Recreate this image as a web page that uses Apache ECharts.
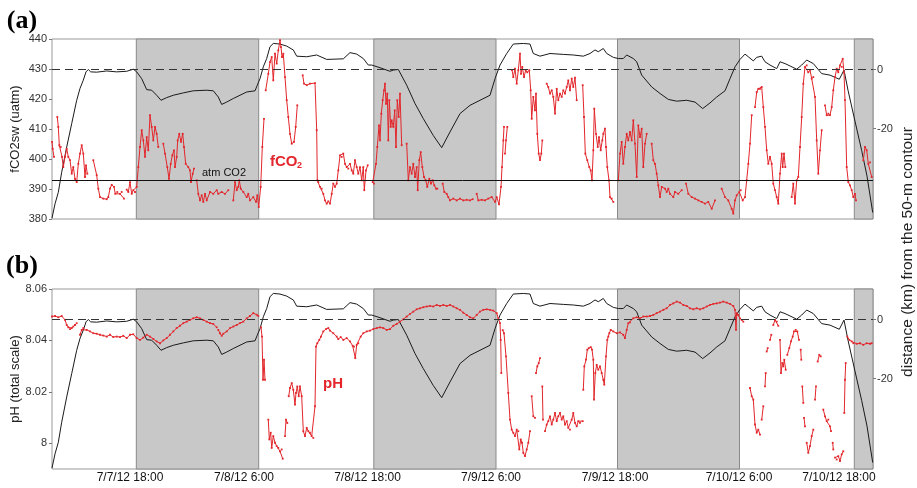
<!DOCTYPE html>
<html><head><meta charset="utf-8">
<script src="https://cdn.jsdelivr.net/npm/echarts@6/dist/echarts.min.js"></script>
<style>html,body{margin:0;padding:0;background:#fff}#c{width:917px;height:488px}</style>
</head><body><div id="c"></div>
<script>
// x values: hours elapsed since start of record (~7/7/12 10:00)
const tickHours = [7.8, 19.2, 31.55, 43.9, 56.3, 68.7, 78.7];
const tickLabels = ['7/7/12 18:00', '7/8/12 6:00', '7/8/12 18:00', '7/9/12 6:00', '7/9/12 18:00', '7/10/12 6:00', '7/10/12 18:00'];
const nightPeriods = [[8.43, 20.67], [32.18, 44.4], [56.55, 68.75], [80.23, 82.1]];
const atmCO2 = 392.8;
const fco2Ticks = [380, 390, 400, 410, 420, 430, 440];
const phTicks = [8, 8.02, 8.04, 8.06];
const distTicks = [0, -20];

// distance (km) from the 50-m contour
const distance = [
[0,-50.2],[0.3,-45.4],[0.63,-41.5],[0.97,-34.7],[1.47,-26.2],[1.97,-18.3],[2.47,-10.4],[2.8,-6.4],[3.13,-3.6],[3.4,-0.8],[3.63,0],[3.87,-0.8],[4.47,-0.9],[5.47,-0.5],[6.47,-0.8],[7.47,-0.6],[8.13,0.1],[8.47,-0.8],[8.97,-3.1],[9.47,-6.8],[9.97,-7.0],[10.47,-8.7],[10.9,-10.4],[11.47,-9.5],[12.13,-8.7],[13.13,-7.9],[14.13,-7.2],[15.47,-7.0],[16.13,-7.2],[16.63,-9.3],[16.97,-11.8],[17.47,-11.0],[18.13,-9.8],[18.8,-8.7],[19.47,-7.6],[20.3,-7.2],[20.53,-5.3],[20.8,-3.1],[21.13,0.9],[21.47,3.7],[21.8,7.7],[22.13,8.8],[22.8,8.6],[23.47,7.9],[24.13,6.6],[24.47,4.5],[25.47,4.3],[26.47,4.9],[27.47,3.4],[29.13,3.6],[29.8,5.7],[30.47,5.2],[31.13,3.7],[31.63,1.5],[31.97,1.5],[32.8,0.6],[33.8,-0.6],[34.13,-0.2],[34.63,0],[35.47,-5.3],[36.3,-11.5],[37.13,-16.6],[38.13,-22.3],[38.97,-26.4],[39.8,-21.1],[40.8,-14.9],[41.8,-12.1],[42.8,-10.4],[43.8,-8.7],[44.3,-3.1],[44.8,1.5],[45.47,5.4],[46.13,8.6],[47.13,8.8],[47.8,8.6],[48.13,5.4],[48.8,4.5],[49.8,5.4],[51.13,5.1],[52.13,4.9],[53.13,4.5],[53.8,5.4],[54.3,6.6],[54.63,6.0],[55.13,7.1],[55.47,5.4],[56.13,4.1],[56.63,3.7],[57.13,3.7],[57.47,4.9],[58.13,3.7],[58.47,2.6],[58.97,-1.9],[59.97,-5.9],[60.8,-8.1],[61.63,-10.1],[62.47,-10.7],[63.47,-10.4],[64.3,-11.0],[65.07,-13.2],[65.8,-11.3],[66.47,-9.3],[67.3,-7.2],[67.8,-3.1],[68.3,0.9],[68.8,3.4],[69.3,5.2],[69.63,4.3],[70.13,2.9],[70.47,4.1],[70.97,4.5],[71.3,2.6],[71.8,1.5],[72.47,0.3],[72.8,2.6],[73.3,2.0],[73.8,1.2],[74.47,0.1],[74.97,1.5],[75.47,3.2],[76.13,2.0],[76.97,-1.4],[77.8,-1.9],[78.73,-3.3],[79.2,-0.2],[79.6,-7.0],[80.2,-16.0],[80.97,-27.4],[81.5,-36.0],[82.07,-48.3]
];

// fCO2sw (uatm); null = gap in record
const fco2 = [
[0,405.7],[0.07,403.4],[0.2,400.7],null,
[0.53,414.0],[0.63,410.7],[0.73,404.6],[0.87,404.0],[1.0,400.7],[1.13,397.3],[1.3,400.7],[1.47,403.4],[1.63,400.7],[1.8,399.6],[1.97,395.1],[2.13,397.3],[2.3,393.4],[2.47,392.3],[2.63,398.4],[2.8,401.8],[2.97,404.6],[3.13,401.8],[3.3,394.0],[3.4,397.9],[3.53,395.1],null,
[4.13,399.6],[4.47,394.6],[4.63,390.1],[4.8,387.3],[5.13,386.8],[5.47,386.6],[5.63,387.3],[5.8,390.1],[5.97,391.4],[6.2,390.7],[6.33,388.4],[6.53,389.0],[6.8,388.4],[6.97,389.0],[7.2,386.8],null,
[7.47,389.8],[7.63,389.0],[7.8,392.3],[7.97,388.4],[8.13,389.6],[8.3,389.0],[8.47,390.7],[8.63,397.3],[8.8,404.0],[8.97,409.6],[9.13,406.2],[9.3,400.7],[9.47,407.3],[9.63,402.9],[9.8,414.6],[9.97,410.7],[10.13,406.2],[10.3,410.7],[10.47,408.4],[10.63,404.0],null,
[11.13,405.1],[11.3,401.8],[11.53,397.3],[11.7,393.4],[11.87,398.4],[12.03,401.2],[12.2,402.9],[12.3,397.3],[12.47,400.7],[12.57,406.2],[12.73,408.4],[12.9,405.7],[13.07,408.4],[13.2,404.0],[13.37,398.4],[13.63,397.3],[13.8,396.2],[13.9,392.3],[14.07,395.1],[14.2,396.8],null,
[14.47,392.9],[14.63,388.4],[14.8,386.2],[14.97,387.9],[15.13,385.7],[15.3,388.4],[15.47,386.2],[15.8,389.0],[16.13,388.4],[16.47,389.6],[16.63,388.4],[16.97,389.0],[17.3,388.4],[17.63,389.6],null,
[18.13,386.2],[18.3,392.3],[18.47,389.6],[18.63,390.7],[18.73,392.9],[18.87,390.1],[19.13,389.0],[19.47,387.3],[19.63,388.4],[19.8,386.2],[20.13,387.3],[20.4,385.7],[20.53,387.9],[20.67,384.0],[20.87,390.7],[21.03,404.0],[21.2,413.4],null,
[21.37,422.9],[21.63,428.4],[21.8,432.3],[21.97,434.0],[22.13,426.2],[22.3,435.1],[22.47,431.8],[22.63,436.2],[22.8,439.6],[22.9,437.3],[23.0,434.0],[23.13,435.1],[23.3,427.3],[23.47,419.6],[23.63,414.0],[23.8,408.4],[23.97,405.1],[24.2,405.7],[24.37,410.7],[24.53,417.9],null,
[25.07,427.9],[25.2,425.1],[25.47,424.6],[25.8,425.1],[26.3,425.3],[26.47,409.6],[26.53,392.9],[26.63,392.3],[26.8,390.7],[26.97,390.1],[27.13,388.4],[27.3,386.2],[27.47,385.1],[27.63,385.9],[27.8,385.1],[27.97,388.4],[28.13,391.8],[28.3,390.7],[28.47,391.8],[28.63,396.2],[28.8,401.2],[28.97,400.7],[29.13,401.8],[29.3,398.4],[29.47,397.3],[29.63,396.8],[29.8,398.4],[29.97,396.2],[30.13,395.1],[30.3,399.6],[30.47,397.3],[30.63,395.1],[30.8,397.3],[30.97,392.9],[31.13,397.3],[31.23,389.6],[31.4,396.2],[31.57,397.9],null,
[32.07,392.3],[32.2,391.8],[32.4,398.4],[32.53,404.0],[32.7,411.2],[32.8,406.2],[32.93,415.1],[33.07,419.6],[33.2,422.9],[33.3,425.1],[33.4,418.4],[33.53,421.8],[33.63,406.2],[33.73,419.6],[33.87,410.7],[33.97,412.9],[34.13,410.7],[34.27,416.2],[34.4,404.0],[34.53,419.6],[34.67,414.0],[34.8,421.8],[34.97,404.6],null,
[35.47,405.1],[35.63,392.9],[35.8,397.3],[35.97,395.1],[36.13,398.4],[36.3,394.0],[36.47,397.3],[36.57,389.6],[36.73,399.6],[36.87,402.3],[37.03,397.3],[37.2,394.0],[37.37,392.9],[37.53,390.7],[37.73,393.4],[37.9,391.8],[38.07,392.9],[38.23,391.2],[38.4,390.1],[38.53,390.1],null,
[39.07,391.8],[39.23,389.0],[39.47,388.4],[39.63,387.3],[39.8,386.2],[40.13,386.8],[40.47,386.2],[40.8,386.8],[41.13,386.2],[41.47,386.4],[41.8,386.2],[42.07,386.6],null,
[42.47,388.4],[42.63,386.2],[42.97,386.4],[43.3,386.2],[43.63,386.8],[43.97,387.3],[44.3,385.7],[44.47,387.3],[44.7,384.9],[44.9,390.7],[45.0,397.3],[45.13,406.2],[45.2,410.7],null,
[45.3,401.8],[45.4,406.2],[45.53,410.7],null,
[46.0,429.6],[46.13,427.3],[46.3,430.1],[46.47,425.1],[46.63,429.6],[46.8,435.1],[46.9,428.4],[47.03,430.7],[47.2,427.3],[47.37,429.6],[47.53,428.9],[47.73,429.6],[47.87,422.9],[47.97,413.4],[48.13,420.7],[48.3,416.2],[48.4,421.8],[48.53,408.4],[48.67,401.8],[48.8,399.6],[48.93,401.8],[49.03,406.2],null,
[49.47,425.1],[49.63,424.0],[49.8,421.8],[49.97,422.9],[50.13,420.7],[50.3,415.1],[50.47,423.4],[50.63,419.6],[50.8,421.8],[50.97,420.7],[51.13,422.9],[51.3,421.8],[51.47,424.0],[51.63,426.2],[51.8,422.9],[51.97,426.8],[52.13,424.0],[52.3,427.1],[52.47,419.6],null,
[53.07,424.6],[53.2,414.0],[53.33,401.8],[53.53,399.6],[53.73,397.3],[53.87,396.2],[54.0,392.9],[54.13,402.9],[54.23,416.8],[54.4,408.4],[54.57,404.0],[54.7,407.3],[54.87,402.9],[55.03,406.2],[55.13,408.4],[55.3,410.1],[55.4,404.0],[55.53,397.3],[55.7,392.9],[55.8,387.3],[55.97,386.8],[56.13,385.7],null,
[56.63,392.9],[56.8,401.8],[56.97,405.7],[57.13,398.4],[57.3,404.0],[57.47,408.4],[57.63,406.2],[57.8,409.0],[57.97,406.2],[58.13,412.9],[58.3,405.1],[58.47,394.0],[58.63,411.2],[58.8,407.3],[58.97,410.1],[59.13,397.3],[59.3,405.1],[59.47,408.4],null,
[59.97,405.1],[60.13,399.6],[60.3,398.4],[60.47,395.1],[60.63,391.2],[60.8,387.3],[60.97,390.7],[61.3,390.1],[61.47,389.0],[61.63,390.1],[61.8,388.4],[62.13,387.3],[62.3,389.0],[62.63,388.4],[62.97,389.6],null,
[63.4,391.8],[63.63,388.4],[63.97,387.3],[64.3,386.8],[64.63,386.2],[64.97,385.7],[65.3,385.1],[65.63,385.7],[65.97,383.4],[66.3,386.2],null,
[66.97,390.1],[67.3,387.3],[67.63,386.2],[67.97,383.4],[68.13,381.8],[68.3,386.2],[68.47,387.9],[68.73,389.0],[68.87,389.6],[69.07,386.2],[69.3,387.3],[69.47,392.9],[69.63,398.4],[69.8,405.1],[69.97,414.6],null,
[70.3,417.3],[70.47,422.3],[70.63,423.4],[70.8,423.4],[70.97,424.0],[71.13,417.3],[71.3,410.7],[71.47,402.9],[71.63,398.4],[71.8,400.7],[71.97,398.4],[72.13,391.8],[72.3,389.6],[72.47,387.3],[72.63,385.1],[72.8,395.1],[72.97,401.8],[73.07,397.3],[73.2,401.8],[73.33,397.3],null,
[73.97,387.3],[74.13,391.8],[74.3,385.1],[74.47,392.9],[74.63,394.0],[74.8,404.0],[74.97,414.0],[75.13,425.1],[75.3,430.7],[75.47,431.2],[75.63,428.9],[75.8,429.6],[75.97,426.8],[76.13,427.3],[76.3,420.7],[76.47,406.2],[76.63,395.1],[76.8,402.9],[76.97,409.6],null,
[77.3,417.9],[77.47,414.6],[77.63,415.1],[77.8,414.6],[77.97,417.3],[78.13,422.9],[78.3,427.3],[78.47,430.1],[78.63,428.9],[78.8,431.2],[78.97,430.7],[79.07,433.4],[79.2,428.9],[79.3,419.6],[79.47,397.3],[79.63,392.3],[79.8,391.2],[79.97,389.6],[80.13,387.3],[80.3,388.4],[80.4,386.2],null,
[81.13,399.6],[81.3,404.0],[81.47,402.9],[81.63,398.4],[81.8,398.9],[81.97,394.0]
];

// pH (total scale); null = gap in record
const ph = [
[0,8.0493],[0.3,8.0495],[0.63,8.0490],[0.97,8.0495],[1.3,8.0480],[1.47,8.0460],[1.63,8.0451],[1.8,8.0444],[1.97,8.0448],[2.13,8.0454],[2.3,8.0460],[2.47,8.0467],null,
[2.8,8.0422],[2.97,8.0441],[3.13,8.0448],[3.47,8.0441],[3.8,8.0435],[4.13,8.0428],[4.47,8.0426],[4.8,8.0422],[5.13,8.0419],[5.47,8.0415],[5.8,8.0422],[6.13,8.0413],[6.47,8.0415],[6.8,8.0413],[7.13,8.0418],[7.47,8.0409],[7.8,8.0422],[8.13,8.0424],[8.47,8.0409],[8.8,8.0402],[9.13,8.0411],[9.47,8.0422],[9.8,8.0415],[10.13,8.0406],[10.47,8.0396],[10.8,8.0389],[11.13,8.0400],[11.47,8.0409],[11.8,8.0422],[12.13,8.0435],[12.47,8.0448],[12.8,8.0457],[13.13,8.0467],[13.47,8.0473],[13.8,8.0480],[14.13,8.0486],[14.47,8.0490],[14.8,8.0486],[15.13,8.0480],[15.47,8.0473],[15.8,8.0467],[16.13,8.0464],[16.47,8.0451],null,
[16.63,8.0441],[16.8,8.0428],[16.97,8.0418],[17.13,8.0426],[17.47,8.0435],[17.8,8.0448],[18.13,8.0454],[18.47,8.0460],[18.8,8.0467],[19.13,8.0473],[19.47,8.0486],[19.8,8.0495],[20.13,8.0506],[20.47,8.0500],[20.63,8.0495],null,
[20.9,8.0451],[21.0,8.0415],[21.1,8.0247],[21.2,8.0325],[21.3,8.0247],null,
[21.63,8.0092],[21.73,8.0015],[21.87,8.0041],[21.97,7.9982],[22.13,8.0028],[22.3,8.0002],[22.47,7.9989],[22.63,7.9982],[22.8,7.9969],[22.97,7.9976],[23.07,7.9940],null,
[23.3,8.0028],[23.4,8.0092],[23.53,8.0079],null,
[23.67,8.0183],[23.8,8.0215],[23.97,8.0234],[24.13,8.0208],[24.3,8.0150],[24.4,8.0196],[24.53,8.0221],[24.67,8.0183],[24.8,8.0221],[24.97,8.0183],[25.13,8.0047],[25.3,8.0028],[25.47,8.0060],[25.63,8.0047],[25.8,8.0041],[25.97,8.0028],[26.13,8.0021],[26.3,8.0144],[26.4,8.0376],[26.53,8.0389],[26.73,8.0402],[26.9,8.0415],[27.13,8.0435],[27.4,8.0444],[27.63,8.0448],[27.8,8.0438],[28.13,8.0428],[28.47,8.0415],[28.63,8.0405],[28.87,8.0413],[29.13,8.0402],[29.47,8.0409],[29.8,8.0396],[30.07,8.0379],[30.2,8.0376],[30.33,8.0331],[30.47,8.0383],[30.63,8.0389],[30.87,8.0415],[31.13,8.0428],[31.47,8.0435],[31.8,8.0438],[32.13,8.0444],[32.47,8.0448],[32.8,8.0451],[33.13,8.0448],[33.47,8.0441],[33.8,8.0444],[34.13,8.0457],[34.47,8.0464],[34.8,8.0473],[35.13,8.0482],[35.47,8.0493],[35.8,8.0503],[36.13,8.0512],[36.47,8.0521],[36.8,8.0525],[37.13,8.0529],[37.47,8.0532],[37.8,8.0534],[38.13,8.0532],[38.47,8.0538],[38.8,8.0534],[39.13,8.0538],[39.47,8.0534],[39.8,8.0538],[40.13,8.0532],[40.47,8.0525],[40.8,8.0519],[41.13,8.0508],[41.47,8.0499],[41.8,8.0490],[42.13,8.0486],[42.47,8.0499],[42.8,8.0512],[43.13,8.0519],[43.47,8.0521],[43.8,8.0519],[44.13,8.0516],[44.47,8.0506],[44.63,8.0486],[44.8,8.0467],[44.87,8.0402],[44.93,8.0273],null,
[45.07,8.0440],[45.2,8.0428],[45.4,8.0338],[45.63,8.0196],[45.8,8.0092],[45.97,8.0053],[46.13,8.0041],[46.3,8.0028],[46.47,8.0053],[46.63,8.0047],[46.73,7.9976],[46.87,8.0015],[47.0,8.0002],[47.13,7.9963],[47.3,7.9950],[47.47,7.9976],[47.63,8.0002],[47.8,8.0047],null,
[47.97,8.0183],[48.13,8.0105],[48.3,8.0099],null,
[48.4,8.0273],[48.53,8.0299],[48.67,8.0312],[48.8,8.0331],null,
[49.03,8.0221],[49.1,8.0092],null,
[49.3,8.0047],[49.47,8.0073],[49.63,8.0086],[49.8,8.0105],[49.97,8.0073],[50.13,8.0092],[50.3,8.0118],[50.47,8.0086],[50.63,8.0105],[50.8,8.0118],[50.97,8.0092],[51.13,8.0105],[51.3,8.0073],[51.47,8.0086],[51.63,8.0060],[51.8,8.0053],[51.97,8.0092],[52.13,8.0118],[52.3,8.0079],[52.47,8.0066],[52.63,8.0086],[52.8,8.0079],[53.07,8.0086],null,
[53.13,8.0208],[53.23,8.0299],[53.4,8.0325],[53.53,8.0364],[53.67,8.0370],[53.87,8.0374],[54.0,8.0364],[54.13,8.0325],[54.2,8.0170],[54.33,8.0273],[54.47,8.0305],[54.63,8.0286],[54.8,8.0299],[54.97,8.0273],[55.13,8.0247],[55.23,8.0228],[55.4,8.0338],[55.53,8.0402],[55.63,8.0415],[55.73,8.0428],[55.87,8.0441],[56.13,8.0435],[56.47,8.0428],[56.8,8.0431],[57.13,8.0422],[57.3,8.0409],[57.47,8.0441],[57.63,8.0467],[57.8,8.0470],[58.13,8.0486],[58.47,8.0490],[58.8,8.0486],[59.13,8.0493],[59.47,8.0493],[59.8,8.0495],[60.13,8.0499],[60.47,8.0506],[60.8,8.0512],[61.13,8.0519],[61.47,8.0525],[61.8,8.0538],[62.13,8.0544],[62.47,8.0551],[62.8,8.0547],[63.13,8.0538],[63.47,8.0534],[63.8,8.0525],[64.13,8.0521],[64.47,8.0525],[64.8,8.0521],[65.13,8.0525],[65.47,8.0532],[65.8,8.0538],[66.13,8.0542],[66.47,8.0544],[66.8,8.0547],[67.13,8.0551],[67.47,8.0547],[67.8,8.0542],[68.13,8.0534],[68.3,8.0519],[68.4,8.0441],[68.47,8.0506],[68.63,8.0499],[68.8,8.0486],[68.97,8.0480],[69.13,8.0473],null,
[69.8,8.0215],[69.97,8.0183],[70.13,8.0170],[70.3,8.0073],[70.47,8.0041],[70.63,8.0053],[70.8,8.0034],null,
[70.97,8.0092],[71.13,8.0144],null,
[71.3,8.0221],[71.37,8.0273],null,
[71.47,8.0357],[71.57,8.0370],null,
[71.8,8.0402],[71.93,8.0422],null,
[72.13,8.0460],[72.3,8.0480],[72.47,8.0473],[72.63,8.0457],null,
[72.8,8.0402],[72.9,8.0273],[73.03,8.0312],[73.13,8.0299],[73.23,8.0325],[73.37,8.0286],null,
[73.53,8.0344],[73.73,8.0370],[73.9,8.0396],[74.07,8.0415],[74.2,8.0435],[74.37,8.0441],[74.53,8.0435],[74.7,8.0402],null,
[74.87,8.0364],[74.93,8.0325],null,
[75.03,8.0221],[75.13,8.0157],null,
[75.2,8.0099],[75.3,8.0066],null,
[75.47,8.0002],[75.63,7.9963],[75.8,7.9989],[75.97,8.0028],[76.13,8.0053],null,
[76.3,8.0170],[76.4,8.0221],null,
[76.57,8.0318],[76.73,8.0344],[76.87,8.0338],null,
[77.13,8.0131],[77.3,8.0105],[77.47,8.0086],[77.63,8.0092],[77.8,8.0066],[77.9,8.0047],null,
[78.07,8.0002],[78.13,7.9976],null,
[78.3,7.9944],[78.47,7.9937],[78.63,7.9950],[78.8,7.9931],[78.97,7.9957],[79.13,7.9969],null,
[79.23,8.0118],[79.3,8.0247],[79.37,8.0312],null,
[79.53,8.0415],[79.73,8.0402],[79.97,8.0396],[80.13,8.0389],[80.47,8.0387],[80.8,8.0389],[81.13,8.0383],[81.47,8.0389],[81.8,8.0387],[81.97,8.0389]
];

const RED = '#e3262b';
const FONT = 'Liberation Sans, Arial, Helvetica, sans-serif';
const gap = d => d.map(p => p === null ? ['-', '-'] : p);
const xLabel = v => { const i = tickHours.findIndex(t => Math.abs(t - v) < 1e-6); return i >= 0 ? tickLabels[i] : ''; };
const shade = nightPeriods.map(p => [{ xAxis: p[0] }, { xAxis: p[1] }]);

const chart = echarts.init(document.getElementById('c'), null, { renderer: 'canvas' });

const leftAxisCommon = {
  type: 'value', axisLine: { show: false }, splitLine: { show: false },
  axisTick: { show: true, length: 3, lineStyle: { color: '#777' } },
  axisLabel: { fontSize: 11, color: '#333', fontFamily: FONT, margin: 5 },
  nameLocation: 'middle', nameGap: 30, nameMoveOverlap: false,
  nameTextStyle: { fontSize: 13, color: '#222', fontFamily: FONT }
};
const rightAxis = (g) => ({
  type: 'value', gridIndex: g, position: 'right', min: -50.5, max: 10.3,
  axisLine: { show: false }, splitLine: { show: false },
  axisTick: { show: true, length: 3, lineStyle: { color: '#777' }, customValues: distTicks },
  axisLabel: { fontSize: 11, color: '#333', fontFamily: FONT, margin: 4, customValues: distTicks }
});
const xCommon = { type: 'value', min: 0, max: 82.1, axisLine: { show: false }, splitLine: { show: false }, axisTick: { show: false } };

const gridCommon = { left: 52, width: 821, height: 180, show: true, borderColor: '#999', borderWidth: 1, backgroundColor: 'transparent', containLabel: false, outerBoundsMode: 'none' };

const option = {
  animation: false,
  backgroundColor: '#fff',
  grid: [
    Object.assign({}, gridCommon, { top: 39 }),
    Object.assign({}, gridCommon, { top: 289 })
  ],
  xAxis: [
    Object.assign({}, xCommon, { gridIndex: 0, axisLabel: { show: false } }),
    Object.assign({}, xCommon, { gridIndex: 1, axisLabel: { customValues: tickHours, formatter: xLabel, fontSize: 12, color: '#111', fontFamily: FONT, margin: 3, hideOverlap: false } })
  ],
  yAxis: [
    Object.assign({}, leftAxisCommon, { gridIndex: 0, min: 380, max: 440, interval: 10, name: 'fCO2sw (uatm)' }),
    rightAxis(0),
    Object.assign({}, leftAxisCommon, { gridIndex: 1, min: 7.99, max: 8.06, name: 'pH (total scale)',
      axisTick: Object.assign({}, leftAxisCommon.axisTick, { customValues: phTicks }),
      axisLabel: Object.assign({}, leftAxisCommon.axisLabel, { customValues: phTicks, formatter: v => (Math.abs(v - 8) < 1e-9 ? '8' : v.toFixed(2)) }) }),
    rightAxis(1)
  ],
  series: [
    { type: 'line', xAxisIndex: 0, yAxisIndex: 1, data: distance, symbol: 'none', silent: true, z: 1,
      lineStyle: { opacity: 0 },
      markArea: { silent: true, itemStyle: { color: '#c8c8c8', borderColor: '#8a8a8a', borderWidth: 1 }, data: shade } },
    { type: 'line', xAxisIndex: 1, yAxisIndex: 3, data: distance, symbol: 'none', silent: true, z: 1,
      lineStyle: { opacity: 0 },
      markArea: { silent: true, itemStyle: { color: '#c8c8c8', borderColor: '#8a8a8a', borderWidth: 1 }, data: shade } },
    { type: 'line', xAxisIndex: 0, yAxisIndex: 1, data: distance, symbol: 'none', z: 3,
      lineStyle: { color: '#1a1a1a', width: 1 },
      markLine: { silent: true, symbol: 'none', label: { show: false }, lineStyle: { color: '#333', width: 1, type: [8, 5] }, data: [{ yAxis: 0 }] } },
    { type: 'line', xAxisIndex: 0, yAxisIndex: 0, data: gap(fco2), connectNulls: false, z: 4,
      symbol: 'rect', symbolSize: 1.8, showAllSymbol: true,
      itemStyle: { color: RED }, lineStyle: { color: RED, width: 1 },
      markLine: { silent: true, symbol: 'none', label: { show: false }, lineStyle: { color: '#111', width: 1, type: 'solid' }, data: [{ yAxis: atmCO2 }] } },
    { type: 'line', xAxisIndex: 1, yAxisIndex: 3, data: distance, symbol: 'none', z: 3,
      lineStyle: { color: '#1a1a1a', width: 1 },
      markLine: { silent: true, symbol: 'none', label: { show: false }, lineStyle: { color: '#333', width: 1, type: [8, 5] }, data: [{ yAxis: 0 }] } },
    { type: 'line', xAxisIndex: 1, yAxisIndex: 2, data: gap(ph), connectNulls: false, z: 4,
      symbol: 'rect', symbolSize: 1.8, showAllSymbol: true,
      itemStyle: { color: RED }, lineStyle: { color: RED, width: 1 } }
  ],
  graphic: [
    { type: 'text', x: 22, y: 21, z: 10, style: { text: '(a)', fill: '#000', font: 'bold 26px "Liberation Serif", "Times New Roman", serif', textAlign: 'center', textVerticalAlign: 'middle', align: 'center', verticalAlign: 'middle' } },
    { type: 'text', x: 22, y: 266, z: 10, style: { text: '(b)', fill: '#000', font: 'bold 26px "Liberation Serif", "Times New Roman", serif', textAlign: 'center', textVerticalAlign: 'middle', align: 'center', verticalAlign: 'middle' } },
    { type: 'text', x: 270, y: 162, z: 10, style: { text: 'fCO', fill: RED, font: 'bold 15px ' + FONT, textAlign: 'left', textVerticalAlign: 'middle', align: 'left', verticalAlign: 'middle' } },
    { type: 'text', x: 297, y: 166, z: 10, style: { text: '2', fill: RED, font: 'bold 9px ' + FONT, textAlign: 'left', textVerticalAlign: 'middle', align: 'left', verticalAlign: 'middle' } },
    { type: 'text', x: 323, y: 384, z: 10, style: { text: 'pH', fill: RED, font: 'bold 15px ' + FONT, textAlign: 'left', textVerticalAlign: 'middle', align: 'left', verticalAlign: 'middle' } },
    { type: 'text', x: 202, y: 172.5, z: 10, style: { text: 'atm CO2', fill: '#111', font: '11px ' + FONT, textAlign: 'left', textVerticalAlign: 'middle', align: 'left', verticalAlign: 'middle' } },
    { type: 'text', x: 908, y: 252, z: 10, rotation: Math.PI / 2, style: { text: 'distance (km) from the 50-m contour', fill: '#222', font: '15.5px ' + FONT, textAlign: 'center', textVerticalAlign: 'middle', align: 'center', verticalAlign: 'middle' } }
  ]
};
chart.setOption(option);
</script>
</body></html>
